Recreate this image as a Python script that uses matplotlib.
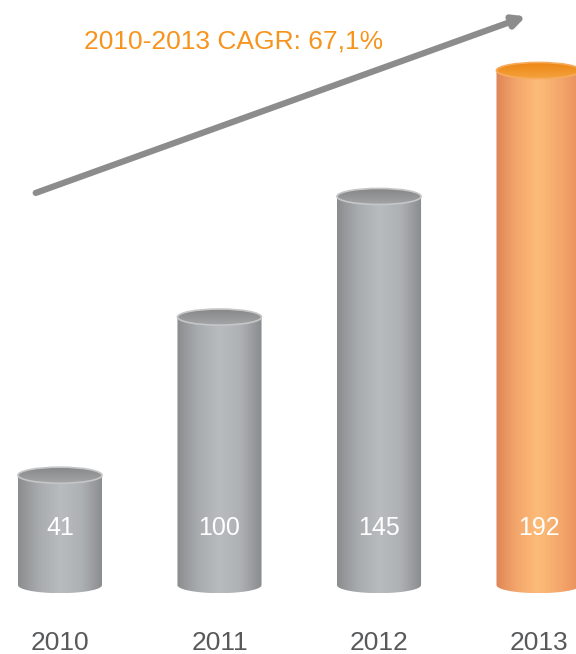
import numpy as np
import matplotlib
matplotlib.use("Agg")
from matplotlib import pyplot as plt
from matplotlib.colors import LinearSegmentedColormap
from matplotlib.patches import Ellipse, PathPatch
from matplotlib.path import Path

years = ["2010", "2011", "2012", "2013"]
values = [41, 100, 145, 192]
cagr_label = "2010-2013 CAGR: 67,1%"

plt.rcParams["font.family"] = ["Liberation Sans", "DejaVu Sans"]

gray_body = LinearSegmentedColormap.from_list(
    "gray_body", ["#8b8c8e", "#a9acaf", "#b9bcbf", "#aeb1b4", "#8a8b8d"])
gray_top = LinearSegmentedColormap.from_list("gray_top", ["#858586", "#a4a5a6"])
orange_body = LinearSegmentedColormap.from_list(
    "orange_body", ["#df8656", "#f4a76c", "#fcbc78", "#f5a86c", "#e88f5e"])
orange_top = LinearSegmentedColormap.from_list("orange_top", ["#ec8614", "#f5a23e"])

bar_w = 0.527
cap_h = 6.0  # ellipse height in data units

fig = plt.figure(figsize=(5.76, 6.54), dpi=100)
ax = fig.add_axes([0, 0, 1, 1])
ax.set_axis_off()

grad = np.linspace(0, 1, 256).reshape(1, -1)
vgrad = np.linspace(0, 1, 64).reshape(-1, 1)

def cylinder(x, v, body_cmap, top_cmap, rim):
    x0, x1 = x - bar_w / 2, x + bar_w / 2
    # side outline: straight sides, flat top, rounded bottom
    t = np.linspace(np.pi, 2 * np.pi, 60)
    bx = x + bar_w / 2 * np.cos(t)
    by = cap_h / 2 * np.sin(t)
    verts = [(x0, v)] + list(zip(bx, by)) + [(x1, v), (x0, v)]
    codes = [Path.MOVETO] + [Path.LINETO] * (len(verts) - 2) + [Path.CLOSEPOLY]
    outline = PathPatch(Path(verts, codes), transform=ax.transData,
                        facecolor="none", edgecolor="none")
    ax.add_patch(outline)
    im = ax.imshow(grad, cmap=body_cmap, aspect="auto",
                   extent=[x0, x1, -cap_h / 2, v], zorder=2)
    im.set_clip_path(outline)

    top = Ellipse((x, v), bar_w, cap_h, transform=ax.transData,
                  facecolor="none", edgecolor=rim, lw=1.2, zorder=4)
    ax.add_patch(top)
    im2 = ax.imshow(vgrad, cmap=top_cmap, aspect="auto", origin="upper",
                    extent=[x0, x1, v - cap_h / 2, v + cap_h / 2], zorder=3)
    im2.set_clip_path(top)

for i, (yr, v) in enumerate(zip(years, values)):
    last = i == len(years) - 1
    if last:
        cylinder(i, v, orange_body, orange_top, "#f7ab5c")
    else:
        cylinder(i, v, gray_body, gray_top, "#c4c6c8")
    ax.text(i, 21.3, str(v), ha="center", va="center", color="white",
            fontsize=18, zorder=5)
    ax.text(i, -21.5, yr, ha="center", va="center", color="#58595b",
            fontsize=19)

ax.set_xlim(-0.376, 3.235)
ax.set_ylim(-25.7, 218.3)

# growth arrow and CAGR note
ax.annotate("", xy=(0.913, 0.975), xytext=(0.062, 0.705),
            xycoords="axes fraction",
            arrowprops=dict(arrowstyle="-|>,head_length=0.7,head_width=0.35",
                            color="#8c8c8c", lw=4.5, shrinkA=0, shrinkB=0))
ax.text(0.406, 0.936, cagr_label, transform=ax.transAxes, ha="center",
        va="center", color="#f7941d", fontsize=19)

fig.savefig("out.png", dpi=100)
